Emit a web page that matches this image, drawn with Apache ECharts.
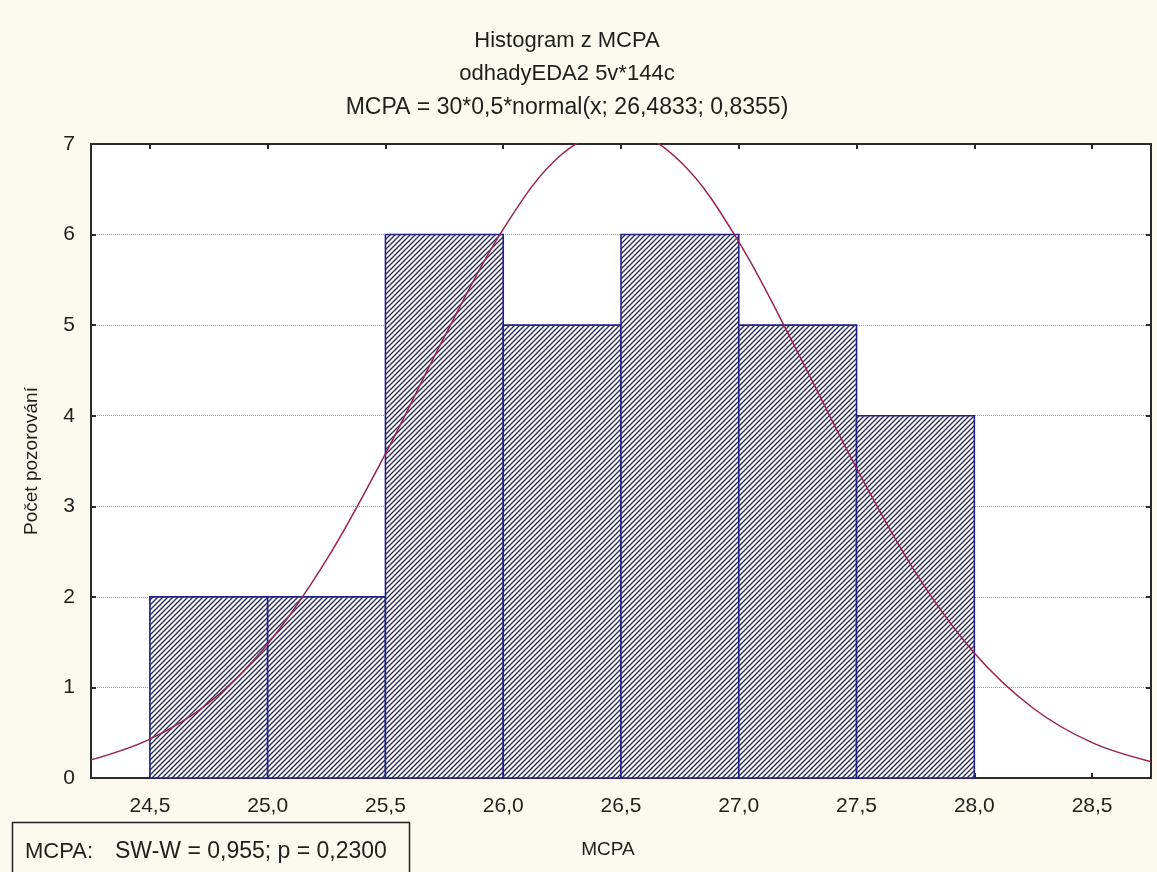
<!DOCTYPE html>
<html>
<head>
<meta charset="utf-8">
<title>Histogram z MCPA</title>
<script src="https://cdn.jsdelivr.net/npm/echarts@6/dist/echarts.min.js"></script>
<style>
  html, body { margin: 0; padding: 0; background: #fcf9ee; }
  #chart { width: 1157px; height: 872px; }
</style>
</head>
<body>
<div id="chart"></div>
<script>
// Histogram bins (lower edges, upper edges) and observed counts
const binLower = [24.5, 25.0, 25.5, 26.0, 26.5, 27.0, 27.5];
const binUpper = [25.0, 25.5, 26.0, 26.5, 27.0, 27.5, 28.0];
const binCounts = [2, 2, 6, 5, 6, 5, 4];

// Fitted normal curve, sampled along the MCPA axis
const curveX = [24.25, 24.5, 24.75, 25.0, 25.25, 25.5, 25.75, 26.0, 26.25, 26.5,
                26.75, 27.0, 27.25, 27.5, 27.75, 28.0, 28.25, 28.5, 28.75];
const curveY = [0.20, 0.43, 0.83, 1.48, 2.41, 3.58, 4.87, 6.06, 6.89, 7.16,
                6.81, 5.92, 4.70, 3.42, 2.27, 1.38, 0.77, 0.39, 0.18];

// Axis ticks
const xTicks = [24.5, 25.0, 25.5, 26.0, 26.5, 27.0, 27.5, 28.0, 28.5];
const xTickLabels = ['24,5', '25,0', '25,5', '26,0', '26,5', '27,0', '27,5', '28,0', '28,5'];
const yTickLabels = ['0', '1', '2', '3', '4', '5', '6', '7'];

// Title lines and the normality test note
const titleLines = ['Histogram z MCPA', 'odhadyEDA2 5v*144c', 'MCPA = 30*0,5*normal(x; 26,4833; 0,8355)'];
const testLabel = 'MCPA:';
const testResult = 'SW-W = 0,955; p = 0,2300';

const FONT = '"Liberation Sans", Arial, sans-serif';
const TEXT = '#1e1e1e';
const FRAME = '#2a2a2a';

// Diagonal hatch tile used to fill the histogram bars
function makeHatch() {
  const s = 5;
  const c = document.createElement('canvas');
  c.width = s; c.height = s;
  const g = c.getContext('2d');
  g.fillStyle = '#ffffff';
  g.fillRect(0, 0, s, s);
  g.strokeStyle = '#2e2e5c';
  g.lineWidth = 1.4;
  g.beginPath();
  g.moveTo(-1, 1); g.lineTo(1, -1);
  g.moveTo(0, s); g.lineTo(s, 0);
  g.moveTo(s - 1, s + 1); g.lineTo(s + 1, s - 1);
  g.stroke();
  return { image: c, repeat: 'repeat' };
}
const hatch = makeHatch();

const histData = binLower.map((lo, i) => [lo, binUpper[i], binCounts[i]]);
const curveData = curveX.map((x, i) => [x, curveY[i]]);

const titleSizes = [22, 22, 23];
const titleTops = [30, 63, 96];

const chart = echarts.init(document.getElementById('chart'), null, { renderer: 'canvas' });

chart.setOption({
  backgroundColor: '#fcf9ee',
  animation: false,
  title: titleLines.map((t, i) => ({
    text: t,
    left: 567,
    textAlign: 'center',
    top: titleTops[i],
    padding: 0,
    textStyle: { fontFamily: FONT, fontSize: titleSizes[i], fontWeight: 'normal', color: TEXT }
  })),
  grid: {
    left: 91, right: 6, top: 144, bottom: 94,
    show: true, backgroundColor: '#ffffff', borderWidth: 0
  },
  xAxis: [
    {
      type: 'value', position: 'bottom', min: 24.25, max: 28.75,
      name: 'MCPA', nameLocation: 'middle', nameGap: 62,
      nameTextStyle: { fontFamily: FONT, fontSize: 19, color: TEXT, padding: [0, 26, 0, 0] },
      axisLine: { show: true, onZero: false, lineStyle: { color: FRAME, width: 2 } },
      axisTick: { show: true, inside: true, length: 5, customValues: xTicks, lineStyle: { color: FRAME, width: 2 } },
      axisLabel: {
        customValues: xTicks, margin: 18,
        fontFamily: FONT, fontSize: 21, color: TEXT,
        formatter: v => xTickLabels[xTicks.findIndex(t => Math.abs(t - v) < 1e-6)]
      },
      splitLine: { show: false }
    },
    {
      type: 'value', position: 'top', min: 24.25, max: 28.75,
      axisLine: { show: true, onZero: false, lineStyle: { color: FRAME, width: 2 } },
      axisTick: { show: true, inside: true, length: 5, customValues: xTicks, lineStyle: { color: FRAME, width: 2 } },
      axisLabel: { show: false },
      splitLine: { show: false }
    }
  ],
  yAxis: [
    {
      type: 'value', position: 'left', min: 0, max: 7, interval: 1,
      name: 'Počet pozorování', nameLocation: 'middle', nameGap: 50,
      nameTextStyle: { fontFamily: FONT, fontSize: 19, color: TEXT },
      axisLine: { show: true, onZero: false, lineStyle: { color: FRAME, width: 2 } },
      axisTick: { show: true, inside: true, length: 5, lineStyle: { color: FRAME, width: 2 } },
      axisLabel: {
        margin: 16, fontFamily: FONT, fontSize: 21, color: TEXT,
        formatter: v => yTickLabels[Math.round(v)]
      },
      splitLine: { show: true, lineStyle: { color: '#9a9a9a', type: 'dotted', width: 1 } }
    },
    {
      type: 'value', position: 'right', min: 0, max: 7, interval: 1,
      axisLine: { show: true, onZero: false, lineStyle: { color: FRAME, width: 2 } },
      axisTick: { show: true, inside: true, length: 5, lineStyle: { color: FRAME, width: 2 } },
      axisLabel: { show: false },
      splitLine: { show: false }
    }
  ],
  series: [
    {
      name: 'MCPA',
      type: 'custom',
      xAxisIndex: 0, yAxisIndex: 0,
      data: histData,
      encode: { x: [0, 1], y: 2 },
      renderItem: (params, api) => {
        const top = api.coord([api.value(0), api.value(2)]);
        const bottom = api.coord([api.value(1), 0]);
        return {
          type: 'rect',
          shape: { x: top[0], y: top[1], width: bottom[0] - top[0], height: bottom[1] - top[1] },
          style: { fill: hatch, stroke: '#1f1f8a', lineWidth: 1.6 }
        };
      },
      z: 2
    },
    {
      name: 'normal',
      type: 'line',
      xAxisIndex: 0, yAxisIndex: 0,
      data: curveData,
      smooth: 0.35,
      showSymbol: false,
      clip: true,
      lineStyle: { color: '#9c2448', width: 1.5 },
      z: 3
    }
  ],
  graphic: [
    {
      type: 'rect',
      shape: { x: 12.5, y: 822.5, width: 397, height: 70 },
      style: { fill: 'none', stroke: '#222222', lineWidth: 1.5 },
      z: 10
    },
    {
      type: 'text',
      x: 25, y: 852,
      style: {
        text: testLabel,
        fontFamily: FONT, fontSize: 22, fill: TEXT,
        verticalAlign: 'middle', align: 'left'
      },
      z: 10
    },
    {
      type: 'text',
      x: 115, y: 852,
      style: {
        text: testResult,
        fontFamily: FONT, fontSize: 23, fill: TEXT,
        verticalAlign: 'middle', align: 'left'
      },
      z: 10
    }
  ]
});
</script>
</body>
</html>
